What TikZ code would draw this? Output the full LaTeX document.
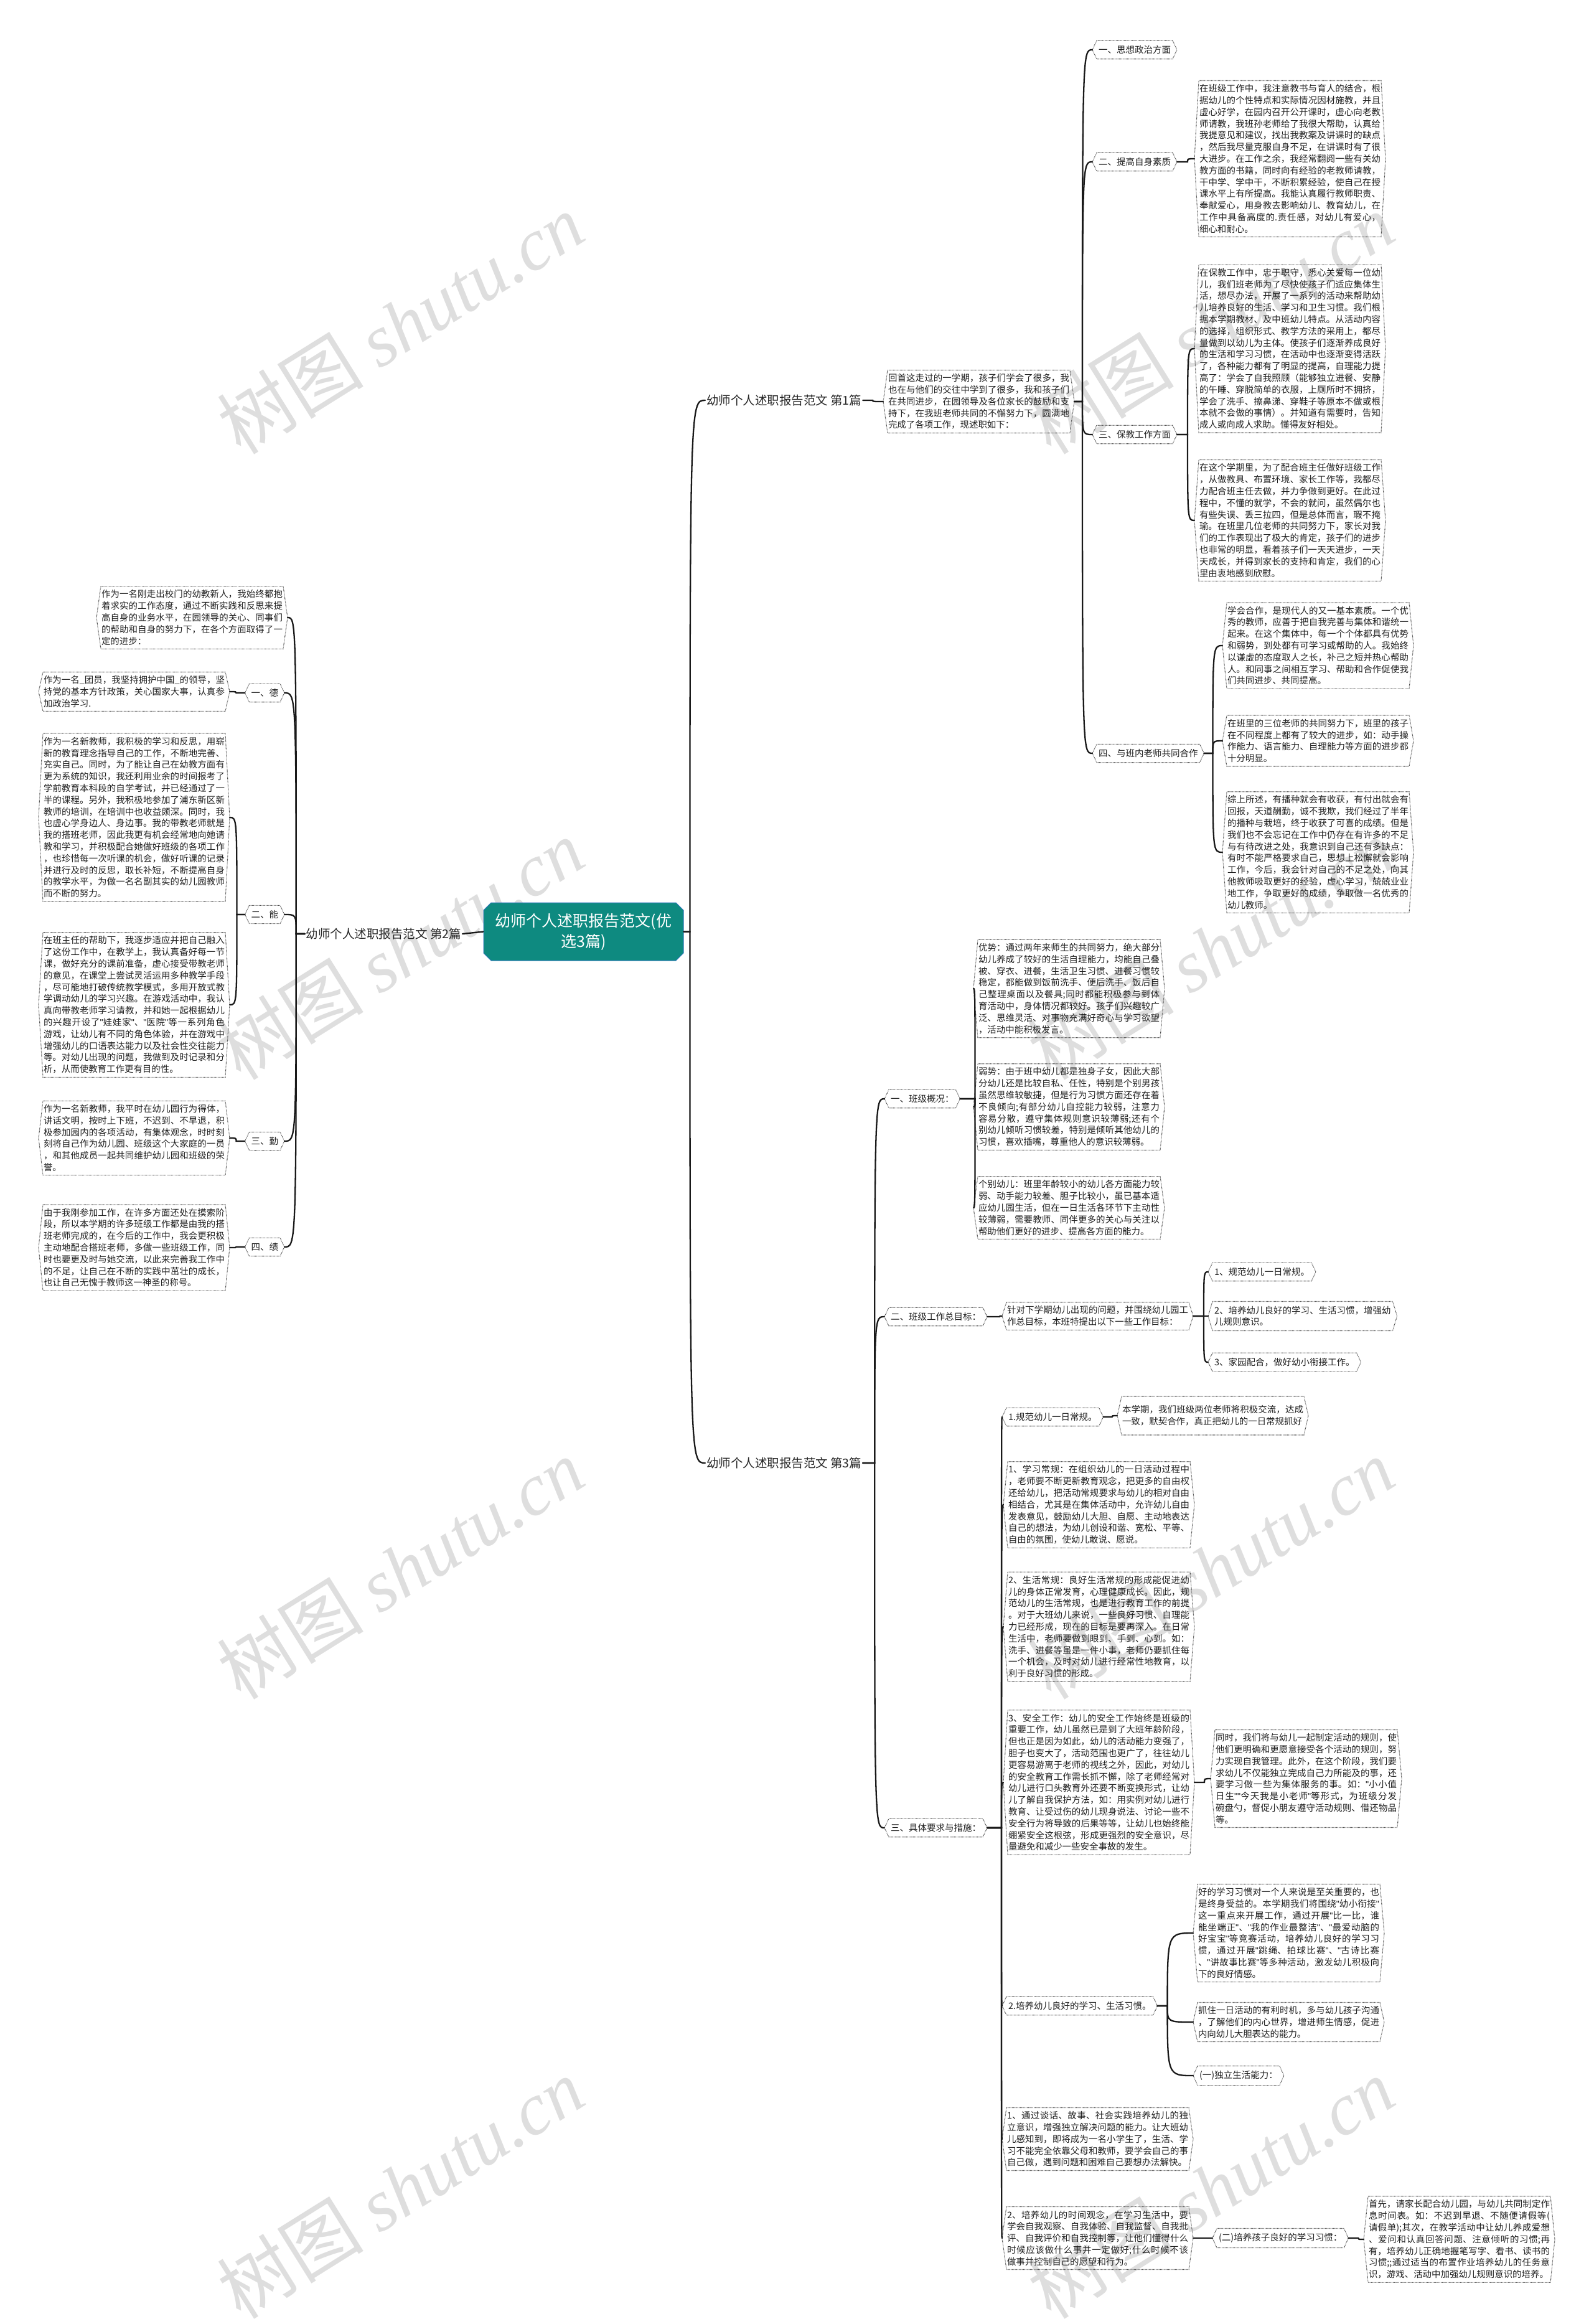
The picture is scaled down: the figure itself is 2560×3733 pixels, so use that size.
\documentclass[tikz,border=0pt]{standalone}
\usepackage{fontspec}
\setmainfont{Noto Sans CJK SC}
\newfontfamily\wmserif{Liberation Serif}
\newfontfamily\latinf{Liberation Sans}
\XeTeXlinebreaklocale "zh"
\XeTeXlinebreakskip=0pt plus 3pt
\newcommand\q{{\latinf"}}
\newcommand\br{\linebreak}
\usetikzlibrary{calc,shapes.misc}
\definecolor{rootteal}{RGB}{14,138,128}
\definecolor{rootedge}{RGB}{50,120,190}
\tikzset{
 conn/.style={line width=2.3pt, black!90, line cap=round},
 mmr/.style={to path={let \p1=(\tikztostart), \p2=(\tikztotarget) in -- (\x1+#1,\y1) .. controls (\x1+#1,\y2) .. (\tikztotarget)}},
 mmr/.default=14pt,
 txtbox/.style={rectangle, text width=291pt, inner xsep=8pt, inner ysep=6pt, outer sep=0pt, align=justify, text=black!88, font=\fontsize{14.45}{18.8}\selectfont},
 lbl/.style={rectangle, inner xsep=10pt, inner ysep=8pt, outer sep=0pt, align=left, text=black!88, font=\fontsize{14.5}{17.5}\selectfont},
 blabel/.style={rectangle, inner xsep=2pt, inner ysep=4pt, outer sep=0pt, text=black!85, font=\fontsize{19.5}{22}\selectfont},
 rootbox/.style={chamfered rectangle, chamfered rectangle xsep=6pt, chamfered rectangle ysep=6pt, fill=rootteal, draw=rootedge, line width=1pt, text=white, align=center, minimum width=321pt, minimum height=93pt, inner sep=0pt, font=\fontsize{25}{33}\selectfont},
 hexline/.style={line width=1.1pt, black!70, dash pattern=on 1.1pt off 1.1pt},
 wm/.style={text=black!13, rotate=32, font=\fontsize{118}{125}\selectfont},
}
\newcommand\hexo[1]{\draw[hexline] ([xshift=7pt]#1.north west) -- ([xshift=-7pt]#1.north east) -- (#1.east) -- ([xshift=-7pt]#1.south east) -- ([xshift=7pt]#1.south west) -- (#1.west) -- cycle;}
\begin{document}
\begin{tikzpicture}[x=1pt,y=-1pt]
\fill[white] (0,0) rectangle (2560,3733);
\useasboundingbox (0,0) rectangle (2560,3733);
% watermarks
\foreach \wx in {643,1945}{\foreach \wy in {520,1525,2520,3515}{
 \node[wm] (wm\wx\wy) at (\wx,\wy) {树图 {\wmserif\itshape shutu.cn}};}}
% root
\node[rootbox] (root) at (937.5,1496.5) {幼师个人述职报告范文(优\\选3篇)};
% ===== branch 1 =====
\node[blabel, anchor=west] (b1) at (1133,643) {幼师个人述职报告范文 第1篇};
\node[txtbox, anchor=west] (b1i) at (1419,645) {回首这走过的一学期，孩子们学会了很多，我\br{}也在与他们的交往中学到了很多，我和孩子们\br{}在共同进步，在园领导及各位家长的鼓励和支\br{}持下，在我班老师共同的不懈努力下，圆满地\br{}完成了各项工作，现述职如下：};
\node[lbl, anchor=west] (b1c1) at (1755,80) {一、思想政治方面};
\node[lbl, anchor=west] (b1c2) at (1755,260) {二、提高自身素质};
\node[txtbox, anchor=west] (b1c2a) at (1919,255) {在班级工作中，我注意教书与育人的结合，根\br{}据幼儿的个性特点和实际情况因材施教，并且\br{}虚心好学，在园内召开公开课时，虚心向老教\br{}师请教，我班孙老师给了我很大帮助，认真给\br{}我提意见和建议，找出我教案及讲课时的缺点\br{}，然后我尽量克服自身不足，在讲课时有了很\br{}大进步。在工作之余，我经常翻阅一些有关幼\br{}教方面的书籍，同时向有经验的老教师请教，\br{}干中学、学中干，不断积累经验，使自己在授\br{}课水平上有所提高。我能认真履行教师职责、\br{}奉献爱心，用身教去影响幼儿、教育幼儿，在\br{}工作中具备高度的.责任感，对幼儿有爱心，\br{}细心和耐心。};
\node[lbl, anchor=west] (b1c3) at (1755,698) {三、保教工作方面};
\node[txtbox, anchor=west] (b1c3a) at (1919,560) {在保教工作中，忠于职守，悉心关爱每一位幼\br{}儿，我们班老师为了尽快使孩子们适应集体生\br{}活，想尽办法，开展了一系列的活动来帮助幼\br{}儿培养良好的生活、学习和卫生习惯。我们根\br{}据本学期教材、及中班幼儿特点。从活动内容\br{}的选择，组织形式、教学方法的采用上，都尽\br{}量做到以幼儿为主体。使孩子们逐渐养成良好\br{}的生活和学习习惯，在活动中也逐渐变得活跃\br{}了，各种能力都有了明显的提高，自理能力提\br{}高了：学会了自我照顾（能够独立进餐、安静\br{}的午睡、穿脱简单的衣服，上厕所时不拥挤，\br{}学会了洗手、擦鼻涕、穿鞋子等原本不做或根\br{}本就不会做的事情）。并知道有需要时，告知\br{}成人或向成人求助。懂得友好相处。};
\node[txtbox, anchor=west] (b1c3b) at (1919,836) {在这个学期里，为了配合班主任做好班级工作\br{}，从做教具、布置环境、家长工作等，我都尽\br{}力配合班主任去做，并力争做到更好。在此过\br{}程中，不懂的就学，不会的就问，虽然偶尔也\br{}有些失误、丢三拉四，但是总体而言，瑕不掩\br{}瑜。在班里几位老师的共同努力下，家长对我\br{}们的工作表现出了极大的肯定，孩子们的进步\br{}也非常的明显，看着孩子们一天天进步，一天\br{}天成长，并得到家长的支持和肯定，我们的心\br{}里由衷地感到欣慰。};
\node[lbl, anchor=west] (b1c4) at (1755,1210) {四、与班内老师共同合作};
\node[txtbox, anchor=west] (b1c4a) at (1964,1037) {学会合作，是现代人的又一基本素质。一个优\br{}秀的教师，应善于把自我完善与集体和谐统一\br{}起来。在这个集体中，每一个个体都具有优势\br{}和弱势，到处都有可学习或帮助的人。我始终\br{}以谦虚的态度取人之长，补己之短并热心帮助\br{}人。和同事之间相互学习、帮助和合作促使我\br{}们共同进步、共同提高。};
\node[txtbox, anchor=west] (b1c4b) at (1964,1190) {在班里的三位老师的共同努力下，班里的孩子\br{}在不同程度上都有了较大的进步，如：动手操\br{}作能力、语言能力、自理能力等方面的进步都\br{}十分明显。};
\node[txtbox, anchor=west] (b1c4c) at (1964,1369) {综上所述，有播种就会有收获，有付出就会有\br{}回报，天道酬勤，诚不我欺，我们经过了半年\br{}的播种与栽培，终于收获了可喜的成绩。但是\br{}我们也不会忘记在工作中仍存在有许多的不足\br{}与有待改进之处，我意识到自己还有多缺点：\br{}有时不能严格要求自己，思想上松懈就会影响\br{}工作，今后，我会针对自己的不足之处，向其\br{}他教师吸取更好的经验，虚心学习，兢兢业业\br{}地工作，争取更好的成绩，争取做一名优秀的\br{}幼儿教师。};
% ===== branch 2 =====
\node[blabel, anchor=east] (b2) at (743,1500) {幼师个人述职报告范文 第2篇};
\node[txtbox, anchor=east] (b2i) at (462,992) {作为一名刚走出校门的幼教新人，我始终都抱\br{}着求实的工作态度，通过不断实践和反思来提\br{}高自身的业务水平，在园领导的关心、同事们\br{}的帮助和自身的努力下，在各个方面取得了一\br{}定的进步：};
\node[lbl, anchor=east] (b2c1) at (457,1113) {一、德};
\node[txtbox, anchor=east] (b2c1a) at (369,1111) {作为一名\_团员，我坚持拥护中国\_的领导，坚\br{}持党的基本方针政策，关心国家大事，认真参\br{}加政治学习.};
\node[lbl, anchor=east] (b2c2) at (457,1469) {二、能};
\node[txtbox, anchor=east] (b2c2a) at (369,1313) {作为一名新教师，我积极的学习和反思，用崭\br{}新的教育理念指导自己的工作，不断地完善、\br{}充实自己。同时，为了能让自己在幼教方面有\br{}更为系统的知识，我还利用业余的时间报考了\br{}学前教育本科段的自学考试，并已经通过了一\br{}半的课程。另外，我积极地参加了浦东新区新\br{}教师的培训，在培训中也收益颇深。同时，我\br{}也虚心学身边人、身边事。我的带教老师就是\br{}我的搭班老师，因此我更有机会经常地向她请\br{}教和学习，并积极配合她做好班级的各项工作\br{}，也珍惜每一次听课的机会，做好听课的记录\br{}并进行及时的反思，取长补短，不断提高自身\br{}的教学水平，为做一名名副其实的幼儿园教师\br{}而不断的努力。};
\node[txtbox, anchor=east] (b2c2b) at (369,1614) {在班主任的帮助下，我逐步适应并把自己融入\br{}了这份工作中，在教学上，我认真备好每一节\br{}课，做好充分的课前准备，虚心接受带教老师\br{}的意见，在课堂上尝试灵活运用多种教学手段\br{}，尽可能地打破传统教学模式，多用开放式教\br{}学调动幼儿的学习兴趣。在游戏活动中，我认\br{}真向带教老师学习请教，并和她一起根据幼儿\br{}的兴趣开设了\q{}娃娃家\q{}、\q{}医院\q{}等一系列角色\br{}游戏，让幼儿有不同的角色体验，并在游戏中\br{}增强幼儿的口语表达能力以及社会性交往能力\br{}等。对幼儿出现的问题，我做到及时记录和分\br{}析，从而使教育工作更有目的性。};
\node[lbl, anchor=east] (b2c3) at (457,1833) {三、勤};
\node[txtbox, anchor=east] (b2c3a) at (369,1828) {作为一名新教师，我平时在幼儿园行为得体，\br{}讲话文明，按时上下班，不迟到、不早退，积\br{}极参加园内的各项活动，有集体观念，时时刻\br{}刻将自己作为幼儿园、班级这个大家庭的一员\br{}，和其他成员一起共同维护幼儿园和班级的荣\br{}誉。};
\node[lbl, anchor=east] (b2c4) at (457,2003) {四、绩};
\node[txtbox, anchor=east] (b2c4a) at (369,2004) {由于我刚参加工作，在许多方面还处在摸索阶\br{}段，所以本学期的许多班级工作都是由我的搭\br{}班老师完成的，在今后的工作中，我会更积极\br{}主动地配合搭班老师，多做一些班级工作，同\br{}时也要更及时与她交流，以此来完善我工作中\br{}的不足，让自己在不断的实践中茁壮的成长，\br{}也让自己无愧于教师这一神圣的称号。};
% ===== branch 3 =====
\node[blabel, anchor=west] (b3) at (1133,2350) {幼师个人述职报告范文 第3篇};
\node[lbl, anchor=west] (b3c1) at (1421,1765) {一、班级概况：};
\node[txtbox, anchor=west] (b3c1a) at (1564,1588) {优势：通过两年来师生的共同努力，绝大部分\br{}幼儿养成了较好的生活自理能力，均能自己叠\br{}被、穿衣、进餐，生活卫生习惯、进餐习惯较\br{}稳定，都能做到饭前洗手、便后洗手、饭后自\br{}己整理桌面以及餐具;同时都能积极参与到体\br{}育活动中，身体情况都较好。孩子们兴趣较广\br{}泛、思维灵活、对事物充满好奇心与学习欲望\br{}，活动中能积极发言。};
\node[txtbox, anchor=west] (b3c1b) at (1564,1778) {弱势：由于班中幼儿都是独身子女，因此大部\br{}分幼儿还是比较自私、任性，特别是个别男孩\br{}虽然思维较敏捷，但是行为习惯方面还存在着\br{}不良倾向;有部分幼儿自控能力较弱，注意力\br{}容易分散，遵守集体规则意识较薄弱;还有个\br{}别幼儿倾听习惯较差，特别是倾听其他幼儿的\br{}习惯，喜欢插嘴，尊重他人的意识较薄弱。};
\node[txtbox, anchor=west] (b3c1c) at (1564,1940) {个别幼儿：班里年龄较小的幼儿各方面能力较\br{}弱、动手能力较差、胆子比较小，虽已基本适\br{}应幼儿园生活，但在一日生活各环节下主动性\br{}较薄弱，需要教师、同伴更多的关心与关注以\br{}帮助他们更好的进步、提高各方面的能力。};
\node[lbl, anchor=west] (b3c2) at (1421,2115) {二、班级工作总目标：};
\node[txtbox, anchor=west] (b3c2a) at (1610,2114) {针对下学期幼儿出现的问题，并围绕幼儿园工\br{}作总目标，本班特提出以下一些工作目标：};
\node[lbl, anchor=west] (b3g1) at (1941,2043) {1、规范幼儿一日常规。};
\node[lbl, anchor=west] (b3g2) at (1941,2114) {2、培养幼儿良好的学习、生活习惯，增强幼\\儿规则意识。};
\node[lbl, anchor=west] (b3g3) at (1941,2188) {3、家园配合，做好幼小衔接工作。};
\node[lbl, anchor=west] (b3c3) at (1421,2936) {三、具体要求与措施：};
\node[lbl, anchor=west] (b3r1) at (1610,2276) {1.规范幼儿一日常规。};
\node[txtbox, anchor=west, minimum height=62pt] (b3r1a) at (1795,2274) {本学期，我们班级两位老师将积极交流，达成\br{}一致，默契合作，真正把幼儿的一日常规抓好};
\node[txtbox, anchor=west] (b3s1) at (1612,2417) {1、学习常规：在组织幼儿的一日活动过程中\br{}，老师要不断更新教育观念，把更多的自由权\br{}还给幼儿，把活动常规要求与幼儿的相对自由\br{}相结合，尤其是在集体活动中，允许幼儿自由\br{}发表意见，鼓励幼儿大胆、自愿、主动地表达\br{}自己的想法，为幼儿创设和谐、宽松、平等、\br{}自由的氛围，使幼儿敢说、愿说。};
\node[txtbox, anchor=west] (b3s2) at (1612,2613) {2、生活常规：良好生活常规的形成能促进幼\br{}儿的身体正常发育，心理健康成长。因此，规\br{}范幼儿的生活常规，也是进行教育工作的前提\br{}。对于大班幼儿来说，一些良好习惯、自理能\br{}力已经形成，现在的目标是要再深入。在日常\br{}生活中，老师要做到眼到、手到、心到。如：\br{}洗手、进餐等虽是一件小事，老师仍要抓住每\br{}一个机会，及时对幼儿进行经常性地教育，以\br{}利于良好习惯的形成。};
\node[txtbox, anchor=west] (b3s3) at (1612,2863) {3、安全工作：幼儿的安全工作始终是班级的\br{}重要工作，幼儿虽然已是到了大班年龄阶段，\br{}但也正是因为如此，幼儿的活动能力变强了，\br{}胆子也变大了，活动范围也更广了，往往幼儿\br{}更容易游离于老师的视线之外，因此，对幼儿\br{}的安全教育工作需长抓不懈，除了老师经常对\br{}幼儿进行口头教育外还要不断变换形式，让幼\br{}儿了解自我保护方法，如：用实例对幼儿进行\br{}教育、让受过伤的幼儿现身说法、讨论一些不\br{}安全行为将导致的后果等等，让幼儿也始终能\br{}绷紧安全这根弦，形成更强烈的安全意识，尽\br{}量避免和减少一些安全事故的发生。};
\node[txtbox, anchor=west] (b3s3a) at (1945,2857) {同时，我们将与幼儿一起制定活动的规则，使\br{}他们更明确和更愿意接受各个活动的规则，努\br{}力实现自我管理。此外，在这个阶段，我们要\br{}求幼儿不仅能独立完成自己力所能及的事，还\br{}要学习做一些为集体服务的事。如：\q{}小小值\br{}日生\q{}\q{}今天我是小老师\q{}等形式，为班级分发\br{}碗盘勺，督促小朋友遵守活动规则、借还物品\br{}等。};
\node[lbl, anchor=west] (b3r2) at (1610,3222) {2.培养幼儿良好的学习、生活习惯。};
\node[txtbox, anchor=west] (b3r2a) at (1917,3105) {好的学习习惯对一个人来说是至关重要的，也\br{}是终身受益的。本学期我们将围绕\q{}幼小衔接\q{}\br{}这一重点来开展工作，通过开展\q{}比一比，谁\br{}能坐端正\q{}、\q{}我的作业最整洁\q{}、\q{}最爱动脑的\br{}好宝宝\q{}等竞赛活动，培养幼儿良好的学习习\br{}惯，通过开展\q{}跳绳、拍球比赛\q{}、\q{}古诗比赛\br{}、\q{}讲故事比赛\q{}等多种活动，激发幼儿积极向\br{}下的良好情感。};
\node[txtbox, anchor=west] (b3r2b) at (1917,3248) {抓住一日活动的有利时机，多与幼儿孩子沟通\br{}，了解他们的内心世界，增进师生情感，促进\br{}内向幼儿大胆表达的能力。};
\node[lbl, anchor=west] (b3r2c) at (1917,3334) {(一)独立生活能力：};
\node[txtbox, anchor=west] (b3s4) at (1610,3436) {1、通过谈话、故事、社会实践培养幼儿的独\br{}立意识，增强独立解决问题的能力。让大班幼\br{}儿感知到，即将成为一名小学生了，生活、学\br{}习不能完全依靠父母和教师，要学会自己的事\br{}自己做，遇到问题和困难自己要想办法解快。};
\node[txtbox, anchor=west] (b3s5) at (1610,3595) {2、培养幼儿的时间观念，在学习生活中，要\br{}学会自我观察、自我体验、自我监督、自我批\br{}评、自我评价和自我控制等，让他们懂得什么\br{}时候应该做什么事并一定做好;什么时候不该\br{}做事并控制自己的愿望和行为。};
\node[lbl, anchor=west] (b3s5a) at (1948,3595) {(二)培养孩子良好的学习习惯：};
\node[txtbox, anchor=west] (b3s5b) at (2191,3597) {首先，请家长配合幼儿园，与幼儿共同制定作\br{}息时间表。如：不迟到早退、不随便请假等(\br{}请假单);其次，在教学活动中让幼儿养成爱想\br{}、爱问和认真回答问题、注意倾听的习惯;再\br{}有，培养幼儿正确地握笔写字、看书、读书的\br{}习惯;;通过适当的布置作业培养幼儿的任务意\br{}识，游戏、活动中加强幼儿规则意识的培养。};
% ===== outlines =====
\foreach \n in {b1i,b1c1,b1c2,b1c2a,b1c3,b1c3a,b1c3b,b1c4,b1c4a,b1c4b,b1c4c,
 b2i,b2c1,b2c1a,b2c2,b2c2a,b2c2b,b2c3,b2c3a,b2c4,b2c4a,
 b3c1,b3c1a,b3c1b,b3c1c,b3c2,b3c2a,b3g1,b3g2,b3g3,b3c3,b3r1,b3r1a,b3s1,b3s2,b3s3,b3s3a,
 b3r2,b3r2a,b3r2b,b3r2c,b3s4,b3s5,b3s5a,b3s5b}{\hexo{\n}}
% ===== connectors =====
\draw[conn] (root.east) to[mmr=10pt] (b1.west);
\draw[conn] (root.east) to[mmr=10pt] (b3.west);
\draw[conn] (root.west) -- (b2.east);
\draw[conn] (b1.east) to[mmr=16pt] (b1i.west);
\foreach \c in {b1c1,b1c2,b1c3,b1c4}{\draw[conn] (b1i.east) to[mmr=13pt] (\c.west);}
\draw[conn] (b1c2.east) to[mmr=17pt] (b1c2a.west);
\foreach \c in {b1c3a,b1c3b}{\draw[conn] (b1c3.east) to[mmr=17pt] (\c.west);}
\foreach \c in {b1c4a,b1c4b,b1c4c}{\draw[conn] (b1c4.east) to[mmr=14pt] (\c.west);}
\foreach \c in {b2i,b2c1,b2c2,b2c3,b2c4}{\draw[conn] (b2.west) to[mmr=-14pt] (\c.east);}
\draw[conn] (b2c1.west) to[mmr=-14pt] (b2c1a.east);
\foreach \c in {b2c2a,b2c2b}{\draw[conn] (b2c2.west) to[mmr=-13pt] (\c.east);}
\draw[conn] (b2c3.west) to[mmr=-14pt] (b2c3a.east);
\draw[conn] (b2c4.west) to[mmr=-14pt] (b2c4a.east);
\foreach \c in {b3c1,b3c2,b3c3}{\draw[conn] (b3.east) to[mmr=19pt] (\c.west);}
\foreach \c in {b3c1a,b3c1b,b3c1c}{\draw[conn] (b3c1.east) to[mmr=24pt] (\c.west);}
\draw[conn] (b3c2.east) to[mmr=20pt] (b3c2a.west);
\foreach \c in {b3g1,b3g2,b3g3}{\draw[conn] (b3c2a.east) to[mmr=17pt] (\c.west);}
\foreach \c in {b3r1,b3s1,b3s2,b3s3,b3r2,b3s4,b3s5}{\draw[conn] (b3c3.east) to[mmr=23pt] (\c.west);}
\draw[conn] (b3r1.east) to[mmr=14pt] (b3r1a.west);
\draw[conn] (b3s3.east) to[mmr=16pt] (b3s3a.west);
\foreach \c in {b3r2a,b3r2b,b3r2c}{\draw[conn] (b3r2.east) to[mmr=16pt] (\c.west);}
\draw[conn] (b3s5.east) to[mmr=16pt] (b3s5a.west);
\draw[conn] (b3s5a.east) to[mmr=16pt] (b3s5b.west);
\end{tikzpicture}
\end{document}
